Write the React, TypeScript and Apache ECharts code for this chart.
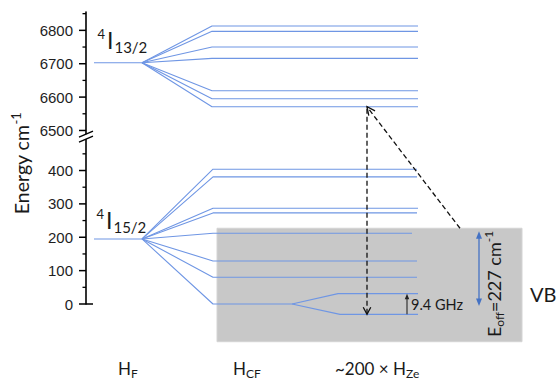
import React, { useEffect, useRef } from 'react';
import * as echarts from 'echarts';

// ---------------- data ----------------
const yBreakOffset = 5980; // shift applied to the 4I13/2 block on the broken axis
const upperFreeIon = 6703;
const upperStark = [6813, 6797, 6750, 6716, 6619, 6595, 6571];
const upperStarkEnd = [332, 332, 332, 332, 332, 332, 332];
const lowerFreeIon = 195;
const lowerStark = [404, 381, 287, 273, 212, 129, 80];
const lowerStarkEnd = [331, 331, 332, 331, 326, 331, 331];
const groundLevel = 0;
const zeemanHalfSplit = 31;
const vbTopE = 227;
const vbBottomE = -113;
const vbX = [131, 436];
const majorTicks = [0, 100, 200, 300, 400, 6500, 6600, 6700, 6800];
const minorTicks = [50, 150, 250, 350, 450, 6550, 6650, 6750, 6850];
const stageX = { hfStart: 8, hfEnd: 56, cfStart: 126, zeeStart: 206, zeeEnd: 253, zeeStop: 332 };
const transitionX = 281;
const vbArrowX = 374;
const eoffX = 393;
const ghzX = 321;
const breakE = 500;
const axisMaxV = 875;

const toV = (e: number) => (e >= 6000 ? e - yBreakOffset : e);

const LINE_COLOR = '#6f96e4';
const FONT = 'Lato';

let _ctx: CanvasRenderingContext2D | null = null;
function measure(t: string, size: number, family = FONT) {
  if (!_ctx) _ctx = document.createElement('canvas').getContext('2d');
  _ctx!.font = `${size}px ${family}`;
  return _ctx!.measureText(t).width;
}

type Part = { text: string; size: number; dy?: number; gap?: number };
function runs(parts: Part[], fill = '#1a1a1a', family = FONT) {
  let x = 0;
  const out: any[] = [];
  for (const p of parts) {
    out.push({
      type: 'text',
      x,
      y: (p.dy || 0) - 0.36 * p.size,
      style: { text: p.text, fontSize: p.size, fontFamily: family, fill, align: 'left', verticalAlign: 'middle' },
    });
    x += measure(p.text, p.size, family) + (p.gap || 0);
  }
  return { children: out, width: x };
}

function head(tip: number[], from: number[], len: number, deg: number, style: any, filled: boolean) {
  const ang = Math.atan2(from[1] - tip[1], from[0] - tip[0]);
  const a = (deg * Math.PI) / 180;
  const p1 = [tip[0] + len * Math.cos(ang + a), tip[1] + len * Math.sin(ang + a)];
  const p2 = [tip[0] + len * Math.cos(ang - a), tip[1] + len * Math.sin(ang - a)];
  if (filled) return { type: 'polygon', shape: { points: [p1, tip, p2] }, style };
  return { type: 'polyline', shape: { points: [p1, tip, p2] }, style: { ...style, fill: 'none' } };
}

function levelSeries() {
  const s: any[] = [];
  const mk = (data: number[][]) => ({
    type: 'line',
    data,
    showSymbol: false,
    symbol: 'none',
    clip: false,
    silent: true,
    z: 2,
    lineStyle: { color: LINE_COLOR, width: 1.1 },
  });
  const uV = toV(upperFreeIon);
  s.push(mk([[stageX.hfStart, uV], [stageX.hfEnd, uV]]));
  upperStark.forEach((e, i) => {
    s.push(mk([[stageX.hfEnd, uV], [stageX.cfStart, toV(e)], [upperStarkEnd[i], toV(e)]]));
  });
  const lV = toV(lowerFreeIon);
  s.push(mk([[stageX.hfStart, lV], [stageX.hfEnd, lV]]));
  lowerStark.forEach((e, i) => {
    s.push(mk([[stageX.hfEnd, lV], [stageX.cfStart + 1, e], [lowerStarkEnd[i], e]]));
  });
  s.push(
    mk([
      [stageX.hfEnd, lV],
      [stageX.cfStart + 1, groundLevel],
      [stageX.zeeStart, groundLevel],
      [stageX.zeeEnd - 1, groundLevel + zeemanHalfSplit],
      [stageX.zeeStop, groundLevel + zeemanHalfSplit],
    ])
  );
  s.push(
    mk([
      [stageX.zeeStart, groundLevel],
      [stageX.zeeEnd + 1, groundLevel - zeemanHalfSplit],
      [stageX.zeeStop, groundLevel - zeemanHalfSplit],
    ])
  );
  return s;
}

export default function App() {
  const ref = useRef<HTMLDivElement>(null);
  useEffect(() => {
    if (!ref.current) return;
    const chart = echarts.init(ref.current, null, { renderer: 'svg' });

    const boxSeries = {
      type: 'custom',
      coordinateSystem: 'cartesian2d',
      data: [[0, 0]],
      silent: true,
      clip: false,
      z: 1,
      renderItem: (_p: any, api: any) => {
        const a = api.coord([vbX[0], vbTopE]);
        const b = api.coord([vbX[1], vbBottomE]);
        return {
          type: 'rect',
          shape: { x: a[0], y: a[1], width: b[0] - a[0], height: b[1] - a[1] },
          style: { fill: '#c8c8c8', stroke: '#d4d4d4', lineWidth: 1 },
        };
      },
    };

    const overlaySeries = {
      type: 'custom',
      coordinateSystem: 'cartesian2d',
      data: [[0, 0]],
      silent: true,
      clip: false,
      z: 3,
      renderItem: (_p: any, api: any) => {
        const c = (x: number, e: number) => api.coord([x, toV(e)]);
        const ch: any[] = [];
        const ax = api.coord([0, 0])[0];
        // ticks & labels
        majorTicks.forEach((t) => {
          const y = c(0, t)[1];
          ch.push({
            type: 'line',
            shape: { x1: ax - 7, y1: y, x2: t === 0 ? ax + 7 : ax, y2: y },
            style: { stroke: '#000', lineWidth: 1.5 },
          });
          ch.push({
            type: 'text',
            x: ax - 13,
            y: y,
            style: {
              text: String(t),
              fontSize: 15,
              fontFamily: 'Liberation Sans',
              fill: '#1e1e1e',
              align: 'right',
              verticalAlign: 'middle',
            },
          });
        });
        minorTicks.forEach((t) => {
          const y = c(0, t)[1];
          ch.push({
            type: 'line',
            shape: { x1: ax - 3.5, y1: y, x2: ax, y2: y },
            style: { stroke: '#000', lineWidth: 1.3 },
          });
        });
        // axis break mark
        const by = c(0, breakE)[1];
        ch.push({ type: 'rect', shape: { x: ax - 1.5, y: by - 3, width: 3, height: 5 }, style: { fill: '#fff' } });
        [-3, 2].forEach((d) => {
          ch.push({
            type: 'line',
            shape: { x1: ax - 7, y1: by + d + 3, x2: ax + 7, y2: by + d - 3 },
            style: { stroke: '#000', lineWidth: 1.4 },
          });
        });

        // dashed transitions
        const dash = { stroke: '#111', lineWidth: 1.3, lineDash: [5, 3] };
        const top = c(transitionX, upperStark[upperStark.length - 1]);
        const bot = c(transitionX, groundLevel - zeemanHalfSplit);
        ch.push({ type: 'line', shape: { x1: top[0], y1: top[1] + 2, x2: bot[0], y2: bot[1] }, style: dash });
        ch.push(head(bot, top, 8, 28, { stroke: '#111', lineWidth: 1.3 }, false));
        const vb = c(vbArrowX, vbTopE);
        ch.push({ type: 'line', shape: { x1: vb[0], y1: vb[1], x2: top[0], y2: top[1] }, style: dash });
        ch.push(head(top, vb, 9, 26, { stroke: '#111', lineWidth: 1.3 }, false));

        // E_off double arrow
        const eTop = c(eoffX, vbTopE - 9);
        const eBot = c(eoffX, -6);
        ch.push({ type: 'line', shape: { x1: eTop[0], y1: eTop[1] + 4, x2: eBot[0], y2: eBot[1] - 4 }, style: { stroke: '#4472c4', lineWidth: 1.3 } });
        ch.push(head(eTop, eBot, 8, 22, { fill: '#4472c4' }, true));
        ch.push(head(eBot, eTop, 8, 22, { fill: '#4472c4' }, true));

        // 9.4 GHz arrow
        const gTop = c(ghzX, groundLevel + zeemanHalfSplit);
        const gBot = c(ghzX, groundLevel - zeemanHalfSplit);
        ch.push({ type: 'line', shape: { x1: gBot[0], y1: gBot[1], x2: gTop[0], y2: gTop[1] + 3 }, style: { stroke: '#333', lineWidth: 1.2 } });
        ch.push(head(gTop, gBot, 6, 22, { fill: '#222' }, true));
        ch.push({
          type: 'text',
          x: gTop[0] + 4,
          y: c(ghzX, groundLevel)[1],
          style: { text: '9.4 GHz', fontSize: 14.5, fontFamily: FONT, fill: '#1a1a1a', align: 'left', verticalAlign: 'middle' },
        });

        // VB
        const vbl = c(vbX[1] + 8, 30);
        ch.push({
          type: 'text',
          x: vbl[0],
          y: vbl[1],
          style: { text: 'VB', fontSize: 20, fontFamily: FONT, fill: '#1a1a1a', align: 'left', verticalAlign: 'middle' },
        });

        // E_off label (rotated)
        {
          const r = runs([
            { text: 'E', size: 18 },
            { text: 'off', size: 12, dy: 4 },
            { text: '=227 cm', size: 18 },
            { text: '-1', size: 12, dy: -7 },
          ]);
          const p = c(eoffX + 21, 60);
          ch.push({
            type: 'group',
            x: p[0],
            y: p[1],
            rotation: Math.PI / 2,
            children: r.children.map((k) => ({ ...k, x: k.x - r.width / 2 })),
          });
        }
        // Energy axis label
        {
          const r = runs([
            { text: 'Energy cm', size: 19.5 },
            { text: '-1', size: 13, dy: -8 },
          ]);
          const p = c(-57, 422);
          ch.push({
            type: 'group',
            x: p[0],
            y: p[1],
            rotation: Math.PI / 2,
            children: r.children.map((k) => ({ ...k, x: k.x - r.width / 2 })),
          });
        }
        // term labels
        const term = (x: number, e: number, sub: string) => {
          const p = c(x, e);
          const sup = runs([{ text: '4', size: 13, dy: -9 }]);
          const main = runs([
            { text: 'I', size: 23, gap: 1 },
            { text: sub, size: 15, dy: 4 },
          ]);
          ch.push({
            type: 'group',
            x: p[0],
            y: p[1],
            children: [
              ...sup.children.map((k) => ({ ...k, x: k.x - sup.width - 2 })),
              ...main.children,
            ],
          });
        };
        term(21, 6747, '13/2');
        term(20, 228, '15/2');

        // stage labels
        const stage = (x: number, main: string, sub: string) => {
          const p = c(x, -213);
          const r = runs([
            { text: main, size: 17 },
            { text: sub, size: 12, dy: 3 },
          ]);
          ch.push({ type: 'group', x: p[0], y: p[1], children: r.children });
        };
        stage(32, 'H', 'F');
        stage(147, 'H', 'CF');
        stage(249, '~200 × H', 'Ze');

        return { type: 'group', children: ch };
      },
    };

    chart.setOption({
      animation: false,
      backgroundColor: '#fff',
      grid: { left: 86, top: 12, width: 444, height: 292 },
      xAxis: { type: 'value', min: 0, max: 444, show: false },
      yAxis: {
        type: 'value',
        min: 0,
        max: axisMaxV,
        axisLine: { show: true, lineStyle: { color: '#000', width: 1.6 } },
        axisTick: { show: false },
        axisLabel: { show: false },
        splitLine: { show: false },
      },
      series: [boxSeries, ...levelSeries(), overlaySeries],
    });
    return () => chart.dispose();
  }, []);
  return <div ref={ref} style={{ width: 556, height: 387, position: 'absolute', left: 0, top: 0 }} />;
}
